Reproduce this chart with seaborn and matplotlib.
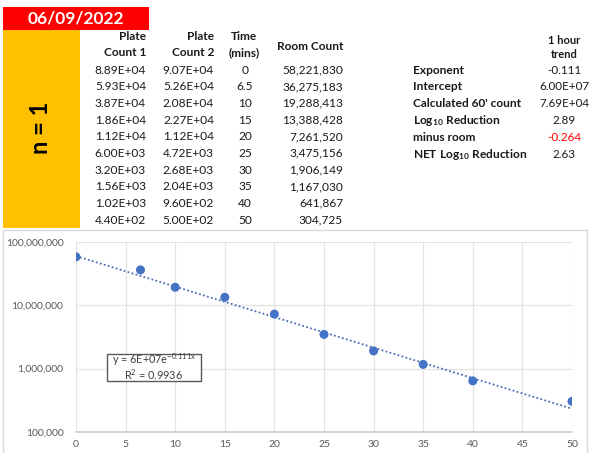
import numpy as np
import pandas as pd
import matplotlib
matplotlib.use("Agg")
import matplotlib.pyplot as plt
import matplotlib.ticker as mticker
from matplotlib.patches import Rectangle
import seaborn as sns

# ---- data -------------------------------------------------------------
run_date = "06/09/2022"
run_label = "n = 1"
plate_count_1 = ["8.89E+04", "5.93E+04", "3.87E+04", "1.86E+04", "1.12E+04",
                 "6.00E+03", "3.20E+03", "1.56E+03", "1.02E+03", "4.40E+02"]
plate_count_2 = ["9.07E+04", "5.26E+04", "2.08E+04", "2.27E+04", "1.12E+04",
                 "4.72E+03", "2.68E+03", "2.04E+03", "9.60E+02", "5.00E+02"]
time_mins = [0, 6.5, 10, 15, 20, 25, 30, 35, 40, 50]
room_count = [58221830, 36275183, 19288413, 13388428, 7261520,
              3475156, 1906149, 1167030, 641867, 304725]

summary_labels = ["Exponent", "Intercept", "Calculated 60' count",
                  r"$\mathbf{Log_{10}\ Reduction}$", "minus room",
                  r"$\mathbf{NET\ Log_{10}\ Reduction}$"]
exponent = -0.111
intercept = 6.00e7
calc_60 = 7.69e4
log_reduction = 2.89
minus_room = -0.264
net_log_reduction = 2.63
r_squared = 0.9936
summary_values = [f"{exponent:.3f}", f"{intercept:.2E}", f"{calc_60:.2E}",
                  f"{log_reduction:.2f}", f"{minus_room:.3f}", f"{net_log_reduction:.2f}"]

x_ticks = [0, 5, 10, 15, 20, 25, 30, 35, 40, 45, 50]
y_ticks = [1e5, 1e6, 1e7, 1e8]

# ---- figure -----------------------------------------------------------
sns.set_theme(style="white")
plt.rcParams["font.family"] = ["Lato", "DejaVu Sans"]
plt.rcParams["mathtext.fontset"] = "custom"
plt.rcParams["mathtext.rm"] = "Lato"
plt.rcParams["mathtext.it"] = "Lato:italic"
plt.rcParams["mathtext.bf"] = "Lato:bold"

W, H = 590, 453
fig = plt.figure(figsize=(W / 100, H / 100), dpi=100)


def px(x, y):
    return x / W, 1 - y / H


def put(x, y, s, **kw):
    fx, fy = px(x, y)
    kw.setdefault("fontsize", 8.6)
    kw.setdefault("va", "center")
    kw.setdefault("color", "#1a1a1a")
    return fig.text(fx, fy, s, **kw)


# date banner and run box
fig.patches.append(Rectangle(px(3, 30), 146 / W, 23 / H, transform=fig.transFigure,
                             facecolor="#ff0000", edgecolor="none", zorder=0))
fig.patches.append(Rectangle(px(3, 228), 77 / W, 198 / H, transform=fig.transFigure,
                             facecolor="#ffc000", edgecolor="none", zorder=0))
put(76, 18, run_date, ha="center", fontsize=12.5, fontweight="bold", color="white")
put(41, 128, run_label, ha="center", fontsize=17, fontweight="bold", color="black",
    rotation=90)

# column headers
put(146, 37, "Plate", ha="right", fontweight="bold")
put(146, 53, "Count 1", ha="right", fontweight="bold")
put(214, 37, "Plate", ha="right", fontweight="bold")
put(214, 53, "Count 2", ha="right", fontweight="bold")
put(244, 37, "Time", ha="center", fontweight="bold")
put(244, 53, "(mins)", ha="center", fontweight="bold")
put(343, 46, "Room Count", ha="right", fontweight="bold")

row_y = [70 + 16.67 * i for i in range(len(time_mins))]
for y, p1, p2, t, rc in zip(row_y, plate_count_1, plate_count_2, time_mins, room_count):
    put(146, y, p1, ha="right")
    put(214, y, p2, ha="right")
    put(245, y, f"{t:g}", ha="center")
    put(343, y, f"{rc:,}", ha="right")

# summary block
put(564, 40, "1 hour", ha="center", fontweight="bold", fontsize=8)
put(564, 54, "trend", ha="center", fontweight="bold", fontsize=8)
for i, (lab, val) in enumerate(zip(summary_labels, summary_values)):
    y = 70 + 16.8 * i
    put(413, y, lab, ha="left", fontweight="bold")
    put(564, y, val, ha="center", fontsize=8.4,
        color="#ff0000" if lab == "minus room" else "#1a1a1a")

# chart frame
fig.patches.append(Rectangle(px(3, 460), 584 / W, 230 / H, transform=fig.transFigure,
                             facecolor="none", edgecolor="#d9d9d9", linewidth=1.0))

# ---- chart ------------------------------------------------------------
left, right, top, bottom = 76, 572, 242, 432
ax = fig.add_axes([left / W, 1 - bottom / H, (right - left) / W, (bottom - top) / H])

df = pd.DataFrame({"Time": time_mins, "Room": room_count})
x_fit = np.linspace(0, 50, 200)
fit_df = pd.DataFrame({"Time": x_fit, "Fit": intercept * np.exp(exponent * x_fit)})

sns.lineplot(data=fit_df, x="Time", y="Fit", ax=ax, color="#4a6fb5",
             linestyle=(0, (1, 1.3)), linewidth=1.3, zorder=2)
sns.scatterplot(data=df, x="Time", y="Room", ax=ax, color="#4472c4", s=42,
                edgecolor="none", zorder=3)

ax.set_yscale("log")
ax.set_xlim(0, 50)
ax.set_ylim(1e5, 1e8)
ax.set_xticks(x_ticks)
ax.set_yticks(y_ticks)
ax.yaxis.set_minor_locator(mticker.NullLocator())
ax.yaxis.set_major_formatter(mticker.FuncFormatter(lambda v, _: f"{v:,.0f}"))
ax.grid(True, color="#e3e3e3", linewidth=0.9)
ax.set_axisbelow(True)
for side in ["top", "right", "left"]:
    ax.spines[side].set_visible(False)
ax.spines["bottom"].set_color("#d0d0d0")
ax.tick_params(axis="both", length=0, labelsize=7.5, labelcolor="#595959")
ax.tick_params(axis="x", pad=6)
ax.tick_params(axis="y", pad=9)
ax.set_xlabel("")
ax.set_ylabel("")

# trendline equation box
bx0, by0, bx1, by1 = 107, 354, 201, 381
fig.patches.append(Rectangle(px(bx0, by1), (bx1 - bx0) / W, (by1 - by0) / H,
                             transform=fig.transFigure, facecolor="white",
                             edgecolor="#595959", linewidth=1.0, zorder=5))
put(154, 360, f"y = 6E+07e$^{{\\mathrm{{{exponent:.3f}x}}}}$", ha="center",
    fontsize=7.8, color="#404040", zorder=6)
put(154, 374.5, f"R$^{{\\mathrm{{2}}}}$ = {r_squared:.4f}", ha="center",
    fontsize=7.8, color="#404040", zorder=6)

fig.savefig("out.png", dpi=100, facecolor="white")
